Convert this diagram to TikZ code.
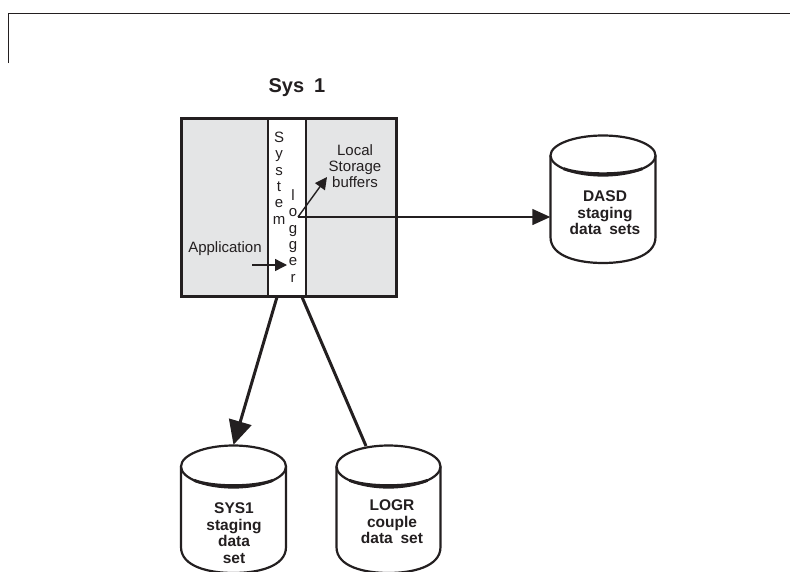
\documentclass[tikz,border=0pt]{standalone}
\usepackage{fontspec}
\setmainfont{Liberation Sans}
\usetikzlibrary{arrows.meta}
\definecolor{panel}{HTML}{E4E5E6}
\definecolor{ink}{HTML}{231F20}
\tikzset{
  every node/.style={text=ink},
  lab/.style={font=\fontsize{15}{16}\selectfont,align=center,inner sep=0pt},
  blab/.style={font=\bfseries\fontsize{15.5}{16.6}\selectfont,align=center,inner sep=0pt},
  titlelab/.style={font=\bfseries\fontsize{20}{22}\selectfont,align=center,inner sep=0pt},
  vert/.style={font=\fontsize{15}{16.35}\selectfont,align=center,inner sep=0pt},
  panelbox/.style={draw=ink,line width=3pt,fill=panel,rectangle,inner sep=0pt},
  logbox/.style={draw=ink,line width=2.4pt,fill=white,rectangle,inner sep=0pt},
  cylbound/.style={rectangle,inner sep=0pt,minimum width=#1},
  cyl/.style={draw=ink,line width=2.2pt,fill=white},
  thinarrow/.style={draw=ink,line width=1.4pt,-{Triangle[length=18pt,width=16pt]}},
  smallarrow/.style={draw=ink,line width=1.4pt,-{Triangle[length=12pt,width=12pt]}},
  heavyarrow/.style={draw=ink,line width=3pt,-{Triangle[length=24pt,width=23pt]}},
  heavyline/.style={draw=ink,line width=3pt},
  frameline/.style={draw=ink,line width=1pt},
}
% #1 centre x, #2 half width, #3 top y, #4 ellipse half height, #5 straight side end y, #6 bottom y
\newcommand{\cylshape}[6]{%
  \draw[cyl] (#1-#2,#3+#4) -- (#1-#2,#5)
     .. controls (#1-#2,#6-6) and (#1-#2*0.45,#6) .. (#1,#6)
     .. controls (#1+#2*0.45,#6) and (#1+#2,#6-6) .. (#1+#2,#5) -- (#1+#2,#3+#4);
  \draw[cyl] (#1-#2,#3+#4)
     .. controls (#1-#2,#3+#4*0.45) and (#1-#2*0.55,#3) .. (#1,#3)
     .. controls (#1+#2*0.55,#3) and (#1+#2,#3+#4*0.45) .. (#1+#2,#3+#4)
     .. controls (#1+#2,#3+#4*1.55) and (#1+#2*0.55,#3+#4*2) .. (#1,#3+#4*2)
     .. controls (#1-#2*0.55,#3+#4*2) and (#1-#2,#3+#4*1.55) .. (#1-#2,#3+#4) -- cycle;
  \draw[draw=ink,line width=3pt] (#1-#2*0.75,#3+#4*1.66) .. controls (#1-#2*0.4,#3+#4*2) and (#1+#2*0.4,#3+#4*2) .. (#1+#2*0.75,#3+#4*1.66);
}
\begin{document}
\begin{tikzpicture}[x=1pt,y=-1pt]
\useasboundingbox (0,0) rectangle (790,571);
\clip (0,0) rectangle (790,571);
% top frame
\coordinate (fa) at (8,63);
\coordinate (fb) at (8,13);
\coordinate (fc) at (790,13);
\draw[frameline] (fa) -- (fb) -- (fc);
% title
\node[titlelab] (title) at (297,88) {Sys\hspace{0.5em}1};
% system box
\node[panelbox,minimum width=215pt,minimum height=178pt] (sys) at (289,207.5) {};
\node[logbox,minimum width=38pt,minimum height=178pt] (logger) at (287,207.5) {};
\node[vert] (txtsystem) at (279,178) {S\\y\\s\\t\\e\\m};
\node[vert] (txtlogger) at (293,236) {l\\o\\g\\g\\e\\r};
\node[lab] (app) at (225,249) {Application};
\node[lab] (buffers) at (355,166) {Local\\Storage\\buffers};
% cylinders
\cylshape{603}{52.5}{135.5}{20}{237}{263}
\node[cylbound=105pt,minimum height=128pt] (dasd) at (603,199) {};
\node[blab] (dasdtxt) at (605,213) {DASD\\staging\\data\hspace{0.5em}sets};
\cylshape{233.5}{52.5}{445.5}{21}{547}{573}
\node[cylbound=105pt,minimum height=126pt] (sysone) at (233.5,508) {};
\node[blab] (sysonetxt) at (234,533) {SYS1\\staging\\data\\set};
\cylshape{388.5}{52}{445.5}{21}{547}{573}
\node[cylbound=104pt,minimum height=126pt] (logr) at (388.5,508) {};
\node[blab] (logrtxt) at (392,522) {LOGR\\couple\\data\hspace{0.5em}set};
% connectors
\coordinate (hub) at (298,217);
\coordinate (appstart) at (252,265);
\coordinate (append) at (287,265);
\coordinate (bufend) at (327,177);
\coordinate (sysleft) at (277,297);
\coordinate (sysright) at (302,297);
\coordinate (logrtop) at (366,446);
\draw[thinarrow] (hub) -- (hub -| dasd.west);
\draw[smallarrow] (hub) -- (bufend);
\draw[smallarrow] (appstart) -- (append);
\draw[heavyarrow] (sysleft) -- (sysone.north);
\draw[heavyline] (sysright) -- (logrtop);
\end{tikzpicture}
\end{document}
